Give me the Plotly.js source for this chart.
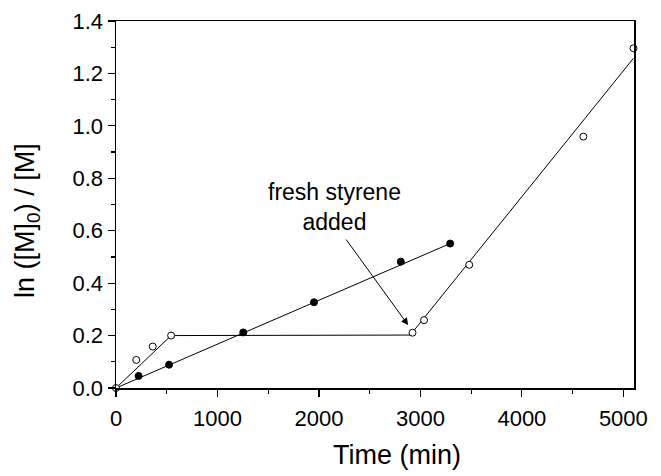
<!DOCTYPE html>
<html>
<head>
<meta charset="utf-8">
<script src="https://cdn.plot.ly/plotly-3.0.1.min.js"></script>
<style>html,body{margin:0;padding:0;background:#fff;}#chart{width:661px;height:476px;}</style>
</head>
<body>
<div id="chart"></div>
<script>
// Open circles (fresh styrene added experiment)
const openTime = [0, 200, 362, 543, 2922, 3036, 3481, 4606, 5100];
const openLnM = [0, 0.107, 0.158, 0.200, 0.211, 0.259, 0.470, 0.959, 1.296];
// Filled circles
const filledTime = [223, 523, 1254, 1951, 2807, 3293];
const filledLnM = [0.046, 0.089, 0.212, 0.327, 0.482, 0.551];
// Guide / fit lines
const openFitTime = [0, 543, 2900, 5100];
const openFitLnM = [0, 0.200, 0.202, 1.258];
const filledFitTime = [0, 3293];
const filledFitLnM = [0, 0.551];
// Annotation
const noteText = "fresh styrene<br>added";
const notePos = [2150, 0.69];
const arrowTip = [2879, 0.240];
// Tick values
const xTicks = [0, 1000, 2000, 3000, 4000, 5000];
const yTicks = [0, 0.2, 0.4, 0.6, 0.8, 1.0, 1.2, 1.4];

const FONT = "Liberation Sans, Arial, sans-serif";

const traces = [
  {x: openFitTime, y: openFitLnM, mode: 'lines', line: {color: '#000', width: 1}, hoverinfo: 'skip', cliponaxis: false},
  {x: filledFitTime, y: filledFitLnM, mode: 'lines', line: {color: '#000', width: 1}, hoverinfo: 'skip', cliponaxis: false},
  {x: filledTime, y: filledLnM, mode: 'markers', marker: {symbol: 'circle', size: 7, color: '#000', line: {color: '#000', width: 1}}, cliponaxis: false},
  {x: openTime, y: openLnM, mode: 'markers', marker: {symbol: 'circle', size: 7, color: '#fff', line: {color: '#000', width: 1}}, cliponaxis: false}
];

const layout = {
  width: 661, height: 476,
  margin: {l: 116, r: 27, t: 21, b: 88},
  paper_bgcolor: '#fff', plot_bgcolor: '#fff',
  showlegend: false,
  font: {family: FONT, color: '#000'},
  xaxis: {
    range: [0, 5105], tickvals: xTicks, ticktext: xTicks.map(String),
    ticks: 'outside', ticklen: 7, tickwidth: 1.2, tickcolor: '#000',
    minor: {dtick: 500, ticks: 'outside', ticklen: 4, tickwidth: 1.2, tickcolor: '#000'},
    showline: true, linecolor: '#000', linewidth: 1.5, mirror: true,
    showgrid: false, zeroline: false, ticklabelstandoff: 3,
    tickfont: {family: FONT, size: 22, color: '#000'}
  },
  yaxis: {
    range: [0, 1.4], tickvals: yTicks, ticktext: yTicks.map(v => v.toFixed(1)),
    ticks: 'outside', ticklen: 7, tickwidth: 1.2, tickcolor: '#000',
    minor: {dtick: 0.1, ticks: 'outside', ticklen: 4, tickwidth: 1.2, tickcolor: '#000'},
    showline: true, linecolor: '#000', linewidth: 1.5, mirror: true,
    showgrid: false, zeroline: false,
    tickfont: {family: FONT, size: 22, color: '#000'}
  },
  annotations: [
    {x: notePos[0], y: notePos[1], xref: 'x', yref: 'y', text: noteText, showarrow: false,
     font: {family: FONT, size: 23, color: '#000'}, align: 'center', xanchor: 'center', yanchor: 'middle'},
    {x: arrowTip[0], y: arrowTip[1], xref: 'x', yref: 'y', text: '', showarrow: true,
     ax: -63, ay: -87, arrowhead: 2, arrowsize: 1.4, arrowwidth: 1, arrowcolor: '#000'},
    {x: 0.5434, y: -0.183, xref: 'paper', yref: 'paper', text: 'Time (min)', showarrow: false,
     font: {family: FONT, size: 27, color: '#000'}, xanchor: 'center', yanchor: 'middle'},
    {x: -0.172, y: 0.4578, xref: 'paper', yref: 'paper', text: 'ln ([M]<sub>0</sub>) / [M]', showarrow: false,
     textangle: -90, font: {family: FONT, size: 27, color: '#000'}, xanchor: 'center', yanchor: 'middle'}
  ]
};

Plotly.newPlot('chart', traces, layout, {staticPlot: true, displayModeBar: false});
</script>
</body>
</html>
